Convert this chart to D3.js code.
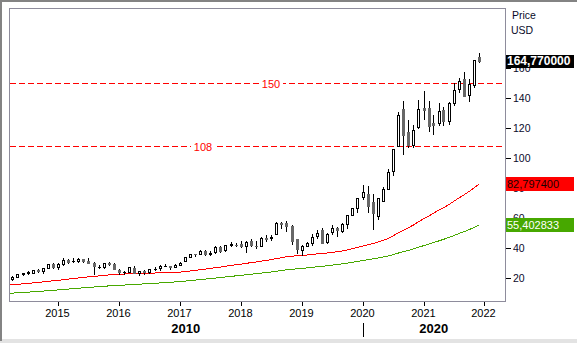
<!DOCTYPE html>
<html><head><meta charset="utf-8">
<script src="https://cdn.jsdelivr.net/npm/d3@7"></script>
<style>
body{margin:0;background:#fff;}
svg{display:block;font-family:Arial,"Liberation Sans",sans-serif;}
</style>
</head><body>
<svg id="chart" width="577" height="343"></svg>
<script>
// ---- data: AAPL monthly candles, Apr 2014 .. Dec 2021 ----
const firstMonth = [2014, 3]; // year, month index (April)
const opens = [
19.21,21.14,22.64,23.38,23.73,25.79,25.12,27.17,29.70,
27.85,29.51,32.31,31.21,31.39,32.68,31.73,30.38,27.54,27.27,29.97,29.69,
25.65,24.12,24.41,27.20,23.49,24.76,23.87,26.10,26.54,28.18,28.37,27.59,
28.95,31.76,34.47,35.93,36.28,38.29,36.22,37.28,41.20,38.56,42.47,42.49,
42.54,41.79,44.63,41.66,41.60,46.99,46.57,49.78,57.10,56.99,54.76,46.12,
38.72,41.74,43.57,47.91,52.47,43.90,50.79,53.47,51.61,56.27,62.39,66.82,
74.06,76.07,70.57,61.63,71.56,79.44,91.28,108.20,132.76,117.64,109.11,121.01,
133.52,133.75,123.75,123.66,132.04,125.08,136.60,146.36,152.83,141.90,148.99,167.48];
const highs = [
21.28,22.92,23.67,24.66,25.74,25.95,27.17,29.85,30.09,
30.00,33.40,32.57,33.63,33.24,32.89,33.24,30.64,29.14,30.30,30.96,29.96,
26.46,24.72,27.61,28.10,25.18,25.47,26.14,27.56,29.05,29.67,28.44,29.51,
30.61,34.37,36.13,36.37,39.16,38.99,38.50,41.24,41.24,42.41,44.06,43.77,
45.03,45.15,45.88,44.73,47.59,48.55,48.99,57.22,57.42,58.37,55.59,46.24,
42.25,43.97,49.42,52.12,53.83,50.39,55.34,54.51,56.61,62.44,66.99,73.49,
81.96,81.81,76.00,73.63,81.06,93.10,106.42,131.00,137.98,125.39,121.99,138.79,
145.09,137.88,128.72,137.07,134.07,137.41,150.00,153.49,157.26,153.17,165.70,170.30];
const lows = [
18.92,20.97,22.30,23.02,23.39,24.20,23.63,26.88,26.76,
26.16,29.02,30.29,30.70,30.96,31.05,30.14,23.00,26.75,26.77,28.88,26.21,
23.10,23.15,24.19,23.35,22.37,22.88,23.63,25.63,25.63,28.07,26.02,27.56,
28.69,31.75,34.41,35.01,36.07,35.55,35.60,37.10,37.29,38.12,41.32,41.62,
41.17,37.56,41.24,40.16,41.32,45.18,45.85,49.33,53.83,51.52,42.56,36.65,
35.50,41.48,42.37,47.10,43.75,43.75,49.60,48.15,51.06,53.78,62.29,64.07,
73.19,64.09,53.15,59.22,71.46,79.30,89.14,107.89,103.10,107.72,107.32,120.01,
126.38,118.39,116.21,122.49,122.25,123.13,135.76,144.50,141.27,138.27,147.48,164.53];
const closes = [
21.07,22.61,23.23,23.90,25.63,25.19,27.00,29.73,27.59,
29.29,32.11,31.11,31.29,32.57,31.36,30.33,28.19,27.58,29.88,29.83,26.32,
24.34,24.17,27.25,23.43,24.97,23.90,26.05,26.53,28.26,28.39,27.63,28.96,
30.34,34.25,35.92,35.91,38.19,36.00,37.18,41.00,38.53,42.26,42.96,42.31,
41.86,44.53,41.95,41.31,46.72,46.28,47.57,56.91,56.44,54.72,44.65,39.44,
41.61,43.29,47.49,50.17,43.77,49.48,53.26,52.19,55.99,62.19,66.81,73.41,
77.38,68.34,63.57,73.45,79.49,91.20,106.26,129.04,115.81,108.86,119.05,132.69,
131.96,121.26,122.15,131.46,124.61,136.96,145.86,151.83,141.50,149.80,165.30,164.77];

// moving averages, Mar 2014 .. Dec 2021 (red = MA 50, green = MA 100)
const maFirstMonth = [2014, 2];
const ma50 = [
15.43,15.70,15.99,16.27,16.56,16.89,17.21,17.58,17.97,18.31,
18.67,19.08,19.46,19.84,20.24,20.62,20.98,21.30,21.57,21.89,22.22,22.46,
22.67,22.86,23.08,23.16,23.24,23.30,23.40,23.52,23.65,23.74,23.82,23.97,
24.16,24.46,24.86,25.26,25.71,26.11,26.53,27.07,27.52,28.01,28.53,29.01,
29.45,29.94,30.42,30.87,31.42,31.92,32.42,33.10,33.75,34.33,34.72,34.97,
35.20,35.52,35.88,36.24,36.50,36.86,37.27,37.69,38.20,38.88,39.67,40.54,
41.49,42.33,43.11,44.10,45.14,46.50,48.13,50.23,52.02,53.67,55.49,57.57,
59.66,61.51,63.34,65.29,67.06,69.08,71.23,73.55,75.64,77.81,80.35,82.80];
const ma100 = [
9.93,10.11,10.31,10.52,10.74,10.97,11.20,11.45,11.72,11.97,
12.24,12.53,12.81,13.09,13.38,13.67,13.94,14.18,14.42,14.67,14.92,15.14,
15.33,15.50,15.71,15.87,16.07,16.27,16.48,16.68,16.89,17.12,17.34,17.57,
17.83,18.13,18.46,18.79,19.14,19.47,19.80,20.17,20.50,20.87,21.25,21.61,
21.96,22.34,22.69,23.02,23.42,23.81,24.20,24.68,25.15,25.61,25.97,26.27,
26.59,26.91,27.28,27.66,27.98,28.35,28.76,29.15,29.59,30.09,30.62,31.22,
31.85,32.39,32.89,33.48,34.11,34.83,35.68,36.76,37.71,38.59,39.57,40.66,
41.74,42.74,43.75,44.87,45.96,47.17,48.47,49.83,51.08,52.44,53.93,55.41];

const yTicks = [20, 40, 60, 80, 100, 120, 140, 160];
const xYears = [2015, 2016, 2017, 2018, 2019, 2020, 2021, 2022];
const decades = [2010, 2020];
const levelValues = [150, 108];
const levelLabels = ["150", "108"];
const lastPrice = 164.77, lastPriceLabel = "164,770000";
const ma50Label = "82,797400", ma100Label = "55,402833";
const unitLabels = ["Price", "USD"];

// ---- drawing ----
const svg = d3.select("#chart");
const L = 9, R = 505, T = 8, B = 301;
const x = d3.scaleUtc().domain([new Date(Date.UTC(2014,2,12)), new Date(Date.UTC(2022,4,5))]).range([L, R]);
const y = d3.scaleLinear().domain([4.2, 200.2]).range([302, 8]);

const monthDate = (start, i) => d3.utcMonth.offset(new Date(Date.UTC(start[0], start[1], 1)), i);
const candles = closes.map((c, i) => ({d: monthDate(firstMonth, i), o: opens[i], h: highs[i], l: lows[i], c}));

// window frame
svg.append("rect").attr("x",0).attr("y",0).attr("width",577).attr("height",343).attr("fill","#fff");
svg.append("rect").attr("x",0).attr("y",339).attr("width",577).attr("height",4).attr("fill","#e3e3e3");
svg.append("rect").attr("x",0).attr("y",0).attr("width",577).attr("height",2).attr("fill","#838383");
svg.append("rect").attr("x",0).attr("y",0).attr("width",2).attr("height",341).attr("fill","#838383");

svg.append("defs").append("clipPath").attr("id","plotclip")
  .append("rect").attr("x",L+1).attr("y",T+1).attr("width",R-L-1).attr("height",B-T-1);
const plot = svg.append("g").attr("clip-path","url(#plotclip)");

// level lines
levelValues.forEach((v, i) => {
  const yy = Math.round(y(v)) + 0.5;
  plot.append("line").attr("x1",L+1).attr("x2",R).attr("y1",yy).attr("y2",yy)
    .attr("stroke","#ff0000").attr("stroke-width",1).attr("stroke-dasharray","6,3")
    .attr("shape-rendering","crispEdges");
});

// moving averages
const maLine = d3.line().x(d => x(d.d)).y(d => y(d.v));
[[ma100, "#47a800"], [ma50, "#ff0000"]].forEach(([arr, col]) => {
  const pts = arr.map((v, i) => ({d: monthDate(maFirstMonth, i), v}));
  plot.append("path").datum(pts).attr("d", maLine).attr("fill","none")
    .attr("stroke", col).attr("stroke-width",1).attr("shape-rendering","crispEdges");
});

// candles
const cg = plot.append("g").attr("shape-rendering","crispEdges");
candles.forEach(k => {
  const px = Math.round(x(k.d));
  const yh = Math.round(y(k.h)), yl = Math.round(y(k.l));
  const top = Math.round(y(Math.max(k.o, k.c))), bot = Math.round(y(Math.min(k.o, k.c)));
  cg.append("rect").attr("x",px).attr("y",yh).attr("width",1).attr("height",yl-yh+1).attr("fill","#000");
  if (k.c >= k.o) {
    if (bot - top < 2) {
      cg.append("rect").attr("x",px-1).attr("y",top).attr("width",3).attr("height",bot-top+1).attr("fill","#000");
    } else {
      cg.append("rect").attr("x",px-0.5).attr("y",top+0.5).attr("width",2).attr("height",bot-top)
        .attr("fill","#fff").attr("stroke","#000").attr("stroke-width",1);
    }
  } else {
    cg.append("rect").attr("x",px-1).attr("y",top).attr("width",3).attr("height",Math.max(1,bot-top+1)).attr("fill","#676767");
  }
});

// level labels (over the dashed line)
const levelLabelX = [271, 203];
levelValues.forEach((v, i) => {
  const yy = Math.round(y(v)) + 0.5;
  svg.append("rect").attr("x",levelLabelX[i]-12).attr("y",yy-6).attr("width",24).attr("height",12).attr("fill","#fff");
  svg.append("text").attr("x",levelLabelX[i]).attr("y",yy+4).attr("text-anchor","middle")
    .attr("font-size","11px").attr("fill","#ff0000").text(levelLabels[i]);
});

// plot border
svg.append("rect").attr("x",L+0.5).attr("y",T+0.5).attr("width",R-L).attr("height",B-T)
  .attr("fill","none").attr("stroke","#8e8c9c").attr("stroke-width",1);

// right axis
const ra = svg.append("g");
yTicks.forEach(v => {
  const yy = Math.round(y(v)) + 0.5;
  ra.append("line").attr("x1",R+1).attr("x2",R+6).attr("y1",yy).attr("y2",yy).attr("stroke","#000").attr("shape-rendering","crispEdges");
  ra.append("text").attr("x",513).attr("y",yy+3.5).attr("font-size","10.5px").attr("fill","#0a0a2a").text(v);
});
svg.append("text").attr("x",512).attr("y",19).attr("font-size","10.5px").attr("fill","#0a0a2a").text(unitLabels[0]);
svg.append("text").attr("x",511).attr("y",34).attr("font-size","10.5px").attr("fill","#0a0a2a").text(unitLabels[1]);

// value boxes
function valueBox(v, label, bg, fg, bold, h) {
  const yy = Math.round(y(v));
  svg.append("rect").attr("x",R+1).attr("y",yy-Math.floor(h/2)).attr("width",574-R-1).attr("height",h).attr("fill",bg);
  svg.append("text").attr("x",R+2).attr("y",yy+4).attr("font-size", bold ? "12px" : "11px")
    .attr("font-weight", bold ? "bold" : "normal").attr("fill",fg).text(label);
}
valueBox(ma50[ma50.length-1], ma50Label, "#ff0000", "#1a0000", false, 14);
valueBox(ma100[ma100.length-1], ma100Label, "#47a800", "#ffffff", false, 14);
valueBox(lastPrice, lastPriceLabel, "#000000", "#ffffff", true, 13);

// bottom axis
const ba = svg.append("g");
xYears.forEach(yr => {
  const px = Math.round(x(new Date(Date.UTC(yr,0,1)))) + 0.5;
  ba.append("line").attr("x1",px).attr("x2",px).attr("y1",B+1).attr("y2",B+5).attr("stroke","#000").attr("shape-rendering","crispEdges");
  ba.append("text").attr("x",px-1).attr("y",316.5).attr("text-anchor","middle").attr("font-size","11px").attr("fill","#000").text(yr);
});
// decade labels
decades.forEach(dec => {
  const a = Math.max(L, x(new Date(Date.UTC(dec,0,1))));
  const b = Math.min(R, x(new Date(Date.UTC(dec+10,0,1))));
  ba.append("text").attr("x",(a+b)/2).attr("y",332.5).attr("text-anchor","middle")
    .attr("font-size","13px").attr("font-weight","bold").attr("fill","#000").text(dec);
  const sx = x(new Date(Date.UTC(dec,0,1)));
  if (sx > L && sx < R) {
    const px = Math.round(sx) + 0.5;
    ba.append("line").attr("x1",px).attr("x2",px).attr("y1",323).attr("y2",337).attr("stroke","#000").attr("shape-rendering","crispEdges");
  }
});
</script>
</body></html>
